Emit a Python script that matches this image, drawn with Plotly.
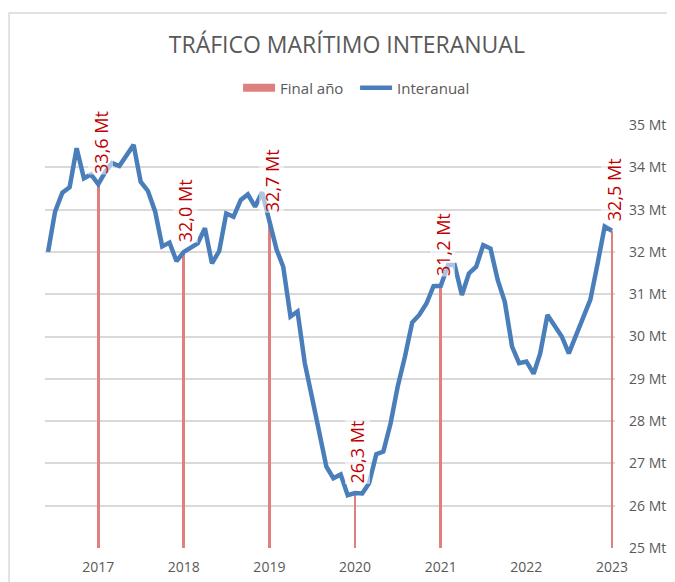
import pandas as pd
import plotly.graph_objects as go

# Monthly year-on-year maritime traffic (Mt), May 2016 - Dec 2022
months = pd.date_range("2016-05-31", periods=80, freq="ME")
interanual = [
    32.0, 32.95, 33.4, 33.53, 34.45, 33.74, 33.83, 33.6,                        # 2016 May-Dec
    33.9, 34.1, 34.03, 34.3, 34.53, 33.66, 33.44, 32.95, 32.13, 32.22, 31.78, 32.0,  # 2017
    32.1, 32.2, 32.56, 31.73, 32.02, 32.91, 32.83, 33.23, 33.36, 33.07, 33.41, 32.7,  # 2018
    32.05, 31.65, 30.47, 30.59, 29.37, 28.58, 27.79, 26.92, 26.65, 26.74, 26.25, 26.3,  # 2019
    26.29, 26.53, 27.22, 27.28, 27.95, 28.81, 29.52, 30.33, 30.51, 30.78, 31.19, 31.2,  # 2020
    31.69, 31.69, 30.98, 31.49, 31.65, 32.16, 32.08, 31.33, 30.82, 29.76, 29.37, 29.41,  # 2021
    29.12, 29.6, 30.51, 30.25, 30.0, 29.6, 30.04, 30.47, 30.87, 31.73, 32.6, 32.5,  # 2022
]

# Year-end values shown as bars
final_dates = ["2016-12-31", "2017-12-31", "2018-12-31", "2019-12-31", "2020-12-31", "2022-12-31"]
final_values = [33.6, 32.0, 32.7, 26.3, 31.2, 32.5]
final_labels = ["33,6 Mt", "32,0 Mt", "32,7 Mt", "26,3 Mt", "31,2 Mt", "32,5 Mt"]

tick_dates = ["2016-12-31", "2017-12-31", "2018-12-31", "2019-12-31",
              "2020-12-31", "2021-12-31", "2022-12-31"]
tick_labels = ["2017", "2018", "2019", "2020", "2021", "2022", "2023"]

FONT = "Open Sans"
GRAY = "#595959"
BAR_COLOR = "#E07F7F"
LINE_COLOR = "#4A7EBB"

fig = go.Figure()
fig.add_trace(go.Bar(
    x=pd.to_datetime(final_dates), y=final_values, name="Final año",
    marker=dict(color=BAR_COLOR, line=dict(width=0)),
    width=12 * 86400000, showlegend=False, legendgroup="final",
))
# legend-only entry giving a wide swatch for the bars
fig.add_trace(go.Scatter(
    x=[None], y=[None], name="Final año", mode="lines",
    line=dict(color=BAR_COLOR, width=8), legendgroup="final",
))
fig.add_trace(go.Scatter(
    x=months, y=interanual, name="Interanual", mode="lines",
    line=dict(color=LINE_COLOR, width=4.5),
))

for d, v, t in zip(final_dates, final_values, final_labels):
    fig.add_annotation(
        x=pd.to_datetime(d), y=v, text=t, textangle=-90, showarrow=False,
        xanchor="center", yanchor="bottom", xshift=2, yshift=9,
        font=dict(family=FONT, size=18, color="#C00000"),
        bgcolor="rgba(255,255,255,0.55)", borderpad=0,
    )

fig.add_shape(type="rect", xref="paper", yref="paper",
              x0=-0.063, x1=1.3, y0=-0.3, y1=1.265,
              line=dict(color="#D9D9D9", width=1.5), layer="below")

fig.update_layout(
    width=667, height=574,
    margin=dict(l=37, r=60, t=117, b=34),
    paper_bgcolor="white", plot_bgcolor="white",
    title=dict(text="TRÁFICO MARÍTIMO INTERANUAL", x=0.508, xanchor="center",
               y=0.935, yanchor="middle",
               font=dict(family=FONT, size=23, color=GRAY)),
    legend=dict(orientation="h", x=0.544, xanchor="center", y=1.0875, yanchor="middle",
                font=dict(family=FONT, size=15, color=GRAY), traceorder="normal",
                itemwidth=32, entrywidth=70),
    bargap=0,
    showlegend=True,
)
fig.update_xaxes(
    type="date", range=["2016-05-18", "2023-01-13"],
    tickvals=pd.to_datetime(tick_dates), ticktext=tick_labels,
    showgrid=False, zeroline=False, showline=False, ticks="",
    tickfont=dict(family=FONT, size=14, color=GRAY),
    ticklabelstandoff=9, automargin=False,
)
fig.update_yaxes(
    range=[25, 35], dtick=1, side="right", ticksuffix=" Mt",
    showgrid=True, gridcolor="#D9D9D9", gridwidth=1.5, zeroline=False,
    tickfont=dict(family=FONT, size=14, color=GRAY), ticks="",
    ticklabelstandoff=13, automargin=False,
)

fig.write_html("out.html")
